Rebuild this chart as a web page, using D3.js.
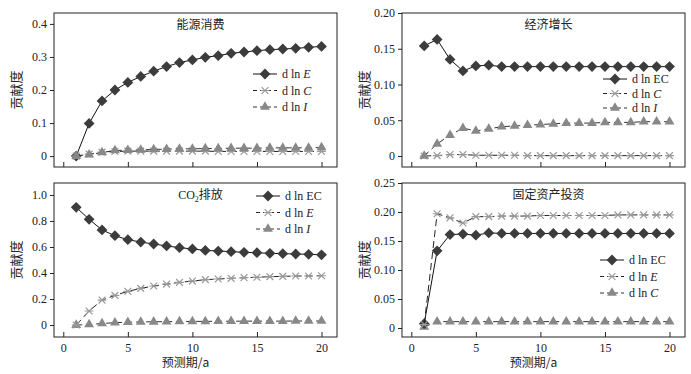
<!DOCTYPE html>
<meta charset="utf-8">
<style>
body { margin: 0; background: #fff; }
.tick text { font-family: "Liberation Serif", serif; font-size: 12px; fill: #222; }
.title { font-family: "Noto Sans CJK SC", sans-serif; font-size: 12px; fill: #222; }
.legend text { font-family: "Liberation Serif", serif; font-size: 12px; fill: #222; }
</style>
<body>
<svg id="chart" width="691" height="374"></svg>
<script src="https://cdn.jsdelivr.net/npm/d3@7"></script>
<script>

// x axis: forecast period 1..20
var years = d3.range(1, 21);
var xTicks = [0, 5, 10, 15, 20];

// panel 1: 能源消费
var energyE = [0, 0.099, 0.167, 0.200, 0.223, 0.241, 0.257, 0.271, 0.283, 0.291, 0.299, 0.304, 0.311, 0.315, 0.319, 0.322, 0.324, 0.326, 0.329, 0.332];
var energyC = [0, 0.006, 0.012, 0.014, 0.015, 0.015, 0.015, 0.015, 0.015, 0.015, 0.015, 0.014, 0.014, 0.014, 0.014, 0.014, 0.014, 0.014, 0.014, 0.014];
var energyI = [0, 0.004, 0.011, 0.017, 0.018, 0.019, 0.020, 0.021, 0.022, 0.022, 0.023, 0.023, 0.024, 0.024, 0.024, 0.025, 0.025, 0.025, 0.025, 0.026];
var energyTicks = [0, 0.1, 0.2, 0.3, 0.4];

// panel 2: 经济增长
var econEC = [0.154, 0.163, 0.135, 0.119, 0.126, 0.127, 0.125, 0.125, 0.125, 0.125, 0.125, 0.125, 0.125, 0.125, 0.125, 0.125, 0.125, 0.125, 0.125, 0.125];
var econC = [0, 0.0005, 0.002, 0.002, 0.001, 0.001, 0.001, 0.001, 0.0005, 0.0005, 0.0005, 0.0005, 0.0005, 0.0005, 0.0005, 0.0005, 0.0005, 0.0005, 0.0005, 0.0005];
var econI = [0, 0.017, 0.029, 0.039, 0.035, 0.038, 0.041, 0.042, 0.043, 0.044, 0.045, 0.046, 0.046, 0.046, 0.047, 0.047, 0.047, 0.048, 0.048, 0.048];
var econTicks = [0, 0.05, 0.10, 0.15, 0.20];

// panel 3: CO2排放
var co2EC = [0.905, 0.813, 0.731, 0.687, 0.656, 0.638, 0.623, 0.608, 0.595, 0.585, 0.574, 0.569, 0.564, 0.559, 0.556, 0.551, 0.549, 0.546, 0.544, 0.540];
var co2E = [0, 0.108, 0.192, 0.228, 0.259, 0.282, 0.300, 0.315, 0.328, 0.338, 0.349, 0.354, 0.359, 0.364, 0.367, 0.372, 0.374, 0.377, 0.377, 0.379];
var co2I = [0, 0.004, 0.012, 0.018, 0.022, 0.024, 0.025, 0.026, 0.027, 0.028, 0.028, 0.029, 0.029, 0.030, 0.030, 0.030, 0.030, 0.031, 0.031, 0.031];
var co2Ticks = [0, 0.2, 0.4, 0.6, 0.8, 1.0];

// panel 4: 固定资产投资
var investEC = [0.0075, 0.133, 0.161, 0.162, 0.160, 0.164, 0.163, 0.163, 0.163, 0.163, 0.163, 0.163, 0.163, 0.163, 0.163, 0.163, 0.163, 0.163, 0.163, 0.163];
var investE = [0.006, 0.197, 0.190, 0.181, 0.192, 0.192, 0.193, 0.193, 0.193, 0.194, 0.194, 0.194, 0.194, 0.194, 0.194, 0.195, 0.195, 0.195, 0.195, 0.195];
var investC = [0.002, 0.011, 0.011, 0.011, 0.011, 0.011, 0.011, 0.011, 0.011, 0.011, 0.011, 0.011, 0.011, 0.011, 0.011, 0.011, 0.011, 0.011, 0.011, 0.011];
var investTicks = [0, 0.05, 0.10, 0.15, 0.20, 0.25];

var svg = d3.select("#chart");

// marker shapes
function diamond(r) { return "M0," + (-r) + "L" + r + ",0L0," + r + "L" + (-r) + ",0Z"; }
function star(r) { return "M" + (-r) + "," + (-r) + "L" + r + "," + r + "M" + (-r) + "," + r + "L" + r + "," + (-r) + "M" + (-r - 1) + ",0L" + (r + 1) + ",0"; }
var triangle = d3.symbol().type(d3.symbolTriangle).size(42)();

var styles = {
    diamond: { dash: null, line: "#111", path: diamond(5.4), fill: "#3c3c3c", stroke: "none" },
    star: { dash: "7,4", line: "#222", path: star(3.4), fill: "none", stroke: "#9a9a9a" },
    tri: { dash: "6,4", line: "#333", path: triangle, fill: "#888", stroke: "none" }
};

var panels = [
    { title: [["能源消费", false]], left: 54, top: 13, dom: [-0.033, 0.433], ticks: energyTicks, fmt: d3.format(".1f"), xlabels: false,
      legend: { x: 253, y: 74, gap: 16.5 },
      series: [["E", true, energyE, "diamond"], ["C", true, energyC, "star"], ["I", true, energyI, "tri"]], order: [0, 1, 2] },
    { title: [["经济增长", false]], left: 402, top: 13, dom: [-0.0154, 0.20], ticks: econTicks, fmt: d3.format(".2f"), xlabels: false,
      legend: { x: 603, y: 79, gap: 14.5 },
      series: [["EC", false, econEC, "diamond"], ["C", true, econC, "star"], ["I", true, econI, "tri"]], order: [1, 2, 0] },
    { title: [["CO", true], ["2", true, "sub"], ["排放", false]], left: 54, top: 183, dom: [-0.092, 1.092], ticks: co2Ticks, fmt: d3.format(".1f"), xlabels: true,
      legend: { x: 256, y: 196, gap: 16.5 },
      series: [["EC", false, co2EC, "diamond"], ["E", true, co2E, "star"], ["I", true, co2I, "tri"]], order: [2, 1, 0] },
    { title: [["固定资产投资", false]], left: 402, top: 183, dom: [-0.0155, 0.25], ticks: investTicks, fmt: d3.format(".2f"), xlabels: true,
      legend: { x: 600, y: 260, gap: 16.5 },
      series: [["EC", false, investEC, "diamond"], ["E", true, investE, "star"], ["C", true, investC, "tri"]], order: [2, 0, 1] }
];

var pw = 283, ph = 154;

panels.forEach(function (p) {
    var g = svg.append("g").attr("transform", "translate(" + p.left + "," + p.top + ")");
    var x = d3.scaleLinear().domain([-0.72, 21.2]).range([0, pw]);
    var y = d3.scaleLinear().domain(p.dom).range([ph, 0]);

    // y axis (outward ticks)
    var ya = g.append("g").call(d3.axisLeft(y).tickValues(p.ticks).tickSize(4).tickPadding(3)
        .tickFormat(function (d) { return d === 0 ? "0" : p.fmt(d); }));
    ya.select(".domain").remove();
    ya.selectAll(".tick line").attr("stroke", "#222");

    // x axis (inward ticks)
    var xa = g.append("g").attr("transform", "translate(0," + ph + ")")
        .call(d3.axisBottom(x).tickValues(xTicks).tickSize(-5).tickPadding(6));
    xa.select(".domain").remove();
    xa.selectAll(".tick line").attr("stroke", "#222");
    if (!p.xlabels) xa.selectAll(".tick text").remove();

    // frame
    g.append("rect").attr("width", pw).attr("height", ph)
        .attr("fill", "none").attr("stroke", "#222").attr("stroke-width", 1);

    // title
    var t = g.append("text").attr("class", "title").attr("x", pw * 0.5 + 5).attr("y", 16).attr("text-anchor", "middle");
    p.title.forEach(function (part) {
        var ts = t.append("tspan").text(part[0]);
        if (part[1]) ts.style("font-family", "Liberation Serif, serif");
        if (part[2] === "sub") ts.style("font-size", "8px").attr("dy", 3);
        else if (t.selectAll("tspan").size() > 1 && p.title[0][1]) ts.attr("dy", -3);
    });

    // y label
    g.append("text").attr("class", "title")
        .attr("transform", "translate(" + (-33) + "," + (ph / 2) + ") rotate(-90)")
        .attr("text-anchor", "middle").style("font-size", "13px").text("贡献度");

    if (p.xlabels) {
        g.append("text").attr("class", "title").attr("x", pw / 2 - 10).attr("y", ph + 30)
            .attr("text-anchor", "middle").text("预测期/a");
    }

    var line = d3.line().x(function (d, i) { return x(years[i]); }).y(function (d) { return y(d); });

    p.order.forEach(function (si) {
        var s = p.series[si], st = styles[s[3]];
        g.append("path").datum(s[2]).attr("d", line).attr("fill", "none")
            .attr("stroke", st.line).attr("stroke-width", 1).attr("stroke-dasharray", st.dash);
        g.selectAll(null).data(s[2]).enter().append("path")
            .attr("transform", function (d, i) { return "translate(" + x(years[i]) + "," + y(d) + ")"; })
            .attr("d", st.path).attr("fill", st.fill).attr("stroke", st.stroke).attr("stroke-width", 1.2);
    });

    // legend
    var lg = svg.append("g").attr("class", "legend");
    p.series.forEach(function (s, i) {
        var st = styles[s[3]], ly = p.legend.y + i * p.legend.gap;
        lg.append("line").attr("x1", p.legend.x).attr("x2", p.legend.x + 24).attr("y1", ly).attr("y2", ly)
            .attr("stroke", st.line).attr("stroke-dasharray", st.dash ? "4,3" : null);
        lg.append("path").attr("transform", "translate(" + (p.legend.x + 12) + "," + ly + ")")
            .attr("d", st.path).attr("fill", st.fill).attr("stroke", st.stroke).attr("stroke-width", 1.2);
        var tx = lg.append("text").attr("x", p.legend.x + 29).attr("y", ly + 4);
        tx.append("tspan").text("d ln ");
        tx.append("tspan").text(s[0]).style("font-style", s[1] ? "italic" : "normal");
    });
});

</script>
</body>
